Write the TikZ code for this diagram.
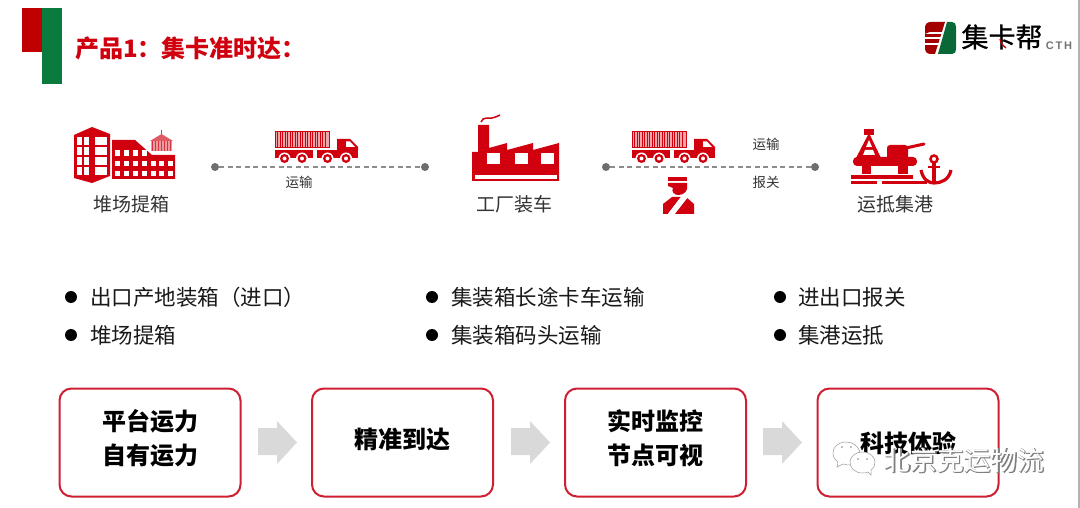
\documentclass[tikz,border=0pt]{standalone}
\usepackage{fontspec}
\setmainfont{Noto Sans CJK SC}
\newfontfamily\latinfont{Liberation Sans}
\newfontfamily\halofont[FakeBold=3]{Noto Sans CJK SC}
\newfontfamily\logofont[FakeBold=1]{Noto Sans CJK SC}
\definecolor{cred}{HTML}{D0000F}
\definecolor{dred}{HTML}{C00000}
\definecolor{cgreen}{HTML}{0B7A3E}
\definecolor{boxred}{HTML}{CE1F33}
\definecolor{lab}{HTML}{333333}
\definecolor{dotg}{HTML}{6E6E6E}
\definecolor{arrg}{HTML}{D9D9D9}
\tikzset{
 x=1pt,y=-1pt,
 heading/.style={inner sep=0,anchor=west,text=cred,font=\fontsize{24}{28}\selectfont\bfseries},
 iconlabel/.style={inner sep=0,text=lab,font=\fontsize{19}{22}\selectfont},
 smalllabel/.style={inner sep=0,text=lab,font=\fontsize{13.5}{16}\selectfont},
 bullettext/.style={inner sep=0,anchor=west,text=black!90,font=\fontsize{21.5}{26}\selectfont},
 bulletdot/.style={circle,fill=black,inner sep=0,minimum size=12pt},
 enddot/.style={circle,fill=dotg,inner sep=0,minimum size=8pt},
 link/.style={draw=black!45,line width=1.4pt,dash pattern=on 5pt off 3.5pt},
 card/.style={draw=boxred,line width=2pt,rounded corners=12pt,fill=white,minimum width=181pt,minimum height=108pt,inner sep=0},
 cardtext/.style={inner sep=0,align=center,text=black,font=\fontsize{24}{34}\selectfont\bfseries},
 flow/.style={fill=arrg,draw=none},
}
\newcommand{\truckicon}[2]{%
\begin{scope}[shift={(#1,#2)}]
 \fill[cred!35] (0,0) rectangle (54,16);
 \draw[cred,line width=1pt] (0,0) rectangle (54,16);
 \foreach \k in {2.5,5,...,52}{\draw[cred,line width=1pt] (\k,0) -- (\k,16);}
 \fill[cred] (0,18) rectangle (38,26.5);
 \fill[cred] (42,18) rectangle (83,26.5);
 \fill[cred] (62,18) -- (62,7) -- (75,7) -- (83,15) -- (83,18) -- cycle;
 \fill[white] (71,9.5) -- (75,9.5) -- (80,15) -- (71,15) -- cycle;
 \foreach \w in {9.5,27,52.5,71}{\fill[white] (\w,26.5) circle (6); \fill[cred] (\w,26.5) circle (4.5); \fill[white] (\w,26.5) circle (2);}
\end{scope}}
\begin{document}
\begin{tikzpicture}
\useasboundingbox (0,0) rectangle (1080,508);
\fill[white] (0,0) rectangle (1080,508);
\fill[black!30] (1077.5,0) rectangle (1080,508);
% corner marks
\fill[dred] (22,8) rectangle (42,52);
\fill[cgreen] (42,8) rectangle (62,84);
\node[heading] (title) at (75,48) {产品1：集卡准时达：};
% logo
\fill[dred!85!black] (925,28) .. controls (925,24) and (927,22) .. (931,22) -- (945,22) -- (935,54) -- (931,54) .. controls (927,54) and (925,52) .. (925,48) -- cycle;
\fill[white] (930,32) rectangle (945,34.5);
\fill[white] (925,37.5) rectangle (945,39);
\fill[white] (925,43) rectangle (945,45);
\fill[white] (925,34) -- (930,32) -- (930,34) -- cycle;
\fill[cgreen!85!black] (947,22) -- (952,22) .. controls (955,22) and (956,24) .. (956,27) -- (956,49) .. controls (956,52) and (955,54) .. (952,54) -- (938,54) -- cycle;
\node[inner sep=0,text=black,font=\logofont\fontsize{27}{30}\selectfont] (logotext) at (1002,37) {集卡帮};
\draw[dred,line width=1.3pt] (1000,39) .. controls (1001,44) and (1003,46) .. (1006,48);
\node[inner sep=0,text=black!55,font=\latinfont\fontsize{11}{12}\selectfont\bfseries] (logocth) at (1059,46) {C\,T\,H};
% warehouse icon
\fill[cred] (74,135) -- (92,127) -- (110,134) -- (110,176) -- (92,183) -- (74,178) -- cycle;
\foreach \yy in {137,147,157,167}{
 \fill[white] (77,\yy) rectangle (81.5,\yy+8);
 \fill[white] (84,\yy) rectangle (89,\yy+8);
 \fill[white] (95,\yy) rectangle (107,\yy+8);}
\fill[cred] (112,140) -- (135,140) -- (152,155) -- (175,155) -- (175,179) -- (112,179) -- cycle;
\foreach \xx in {115,124,133,142}{\fill[white] (\xx,150) rectangle (\xx+5,156);}
\foreach \xx in {115,124,133,142,151,159,168}{
 \fill[white] (\xx,161) rectangle (\xx+5,166);
 \fill[white] (\xx,171) rectangle (\xx+5,176.5);}
\fill[cred!65] (161.5,134) -- (150,141) -- (173,141) -- cycle;
\fill[cred!40] (151,141) rectangle (172,151);
\foreach \xx in {152,155,...,171}{\draw[cred!80,line width=.7pt] (\xx,141) -- (\xx,151);}
\draw[cred!80,line width=1pt] (161.5,130) -- (161.5,134);
\node[iconlabel] (l1) at (131,204) {堆场提箱};
% link 1
\node[enddot] (d1) at (215,167) {};
\node[enddot] (d2) at (425,167) {};
\draw[link] (d1) -- (d2);
\truckicon{275}{132}
\node[smalllabel] (t1) at (299,182) {运输};
% factory
\fill[cred] (472,152) -- (478,152) -- (478,125) -- (489,125) -- (489,148) -- (507,143) -- (507,150) -- (533,143) -- (533,150) -- (559,143) -- (559,181) -- (472,181) -- cycle;
\foreach \xx in {487,514.5,540.5}{\fill[white] (\xx,153) rectangle (\xx+13,164);}
\fill[white] (475,175) rectangle (557,179);
\draw[cred,line width=1.5pt] (481,122) .. controls (483,116) and (489,119) .. (492,118) .. controls (495,118) and (497,116) .. (500,115);
\node[iconlabel] (l2) at (514,204) {工厂装车};
% link 2
\node[enddot] (d3) at (606,167) {};
\node[enddot] (d4) at (815,167) {};
\draw[link] (d3) -- (d4);
\truckicon{632}{132}
\node[smalllabel] (t2) at (766,144) {运输};
\node[smalllabel] (t3) at (766,182) {报关};
% officer
\fill[cred] (668,177) rectangle (687,181);
\fill[cred] (668,183) -- (687,183) -- (687,189) .. controls (686,193) and (682,195) .. (678,195) .. controls (674,195) and (671,191) .. (673,188) -- (668,186) -- cycle;
\fill[cred] (672,197) -- (686,197) -- (694,204) -- (694,214) -- (663,214) -- (663,204) -- cycle;
\fill[white] (683,194) -- (688,197) -- (674,215) -- (667,215) -- cycle;
% port
\fill[cred] (864,129) rectangle (874,135);
\fill[cred] (869,133) -- (881,158) -- (856,158) -- cycle;
\fill[white] (869,140) -- (866,147) -- (872,147) -- cycle;
\fill[white] (865,150) -- (863,155) -- (875,155) -- (873,150) -- cycle;
\fill[cred,rounded corners=3pt] (887,145) rectangle (908,161);
\fill[cred,rounded corners=4pt] (853,157) rectangle (917,166);
\draw[cred,line width=3pt,line cap=round] (906,148) -- (924,144);
\fill[cred] (862,165) rectangle (871,174);
\fill[cred] (898,165) rectangle (908,174);
\fill[cred] (851,175.5) rectangle (913,179);
\fill[cred] (851,181) rectangle (877,184.5);
\fill[cred] (882,181) rectangle (927,184.5);
\draw[cred,line width=2.5pt] (934,159) circle (3.5);
\draw[cred,line width=3.5pt] (934,163) -- (934,182);
\draw[cred,line width=2.5pt] (928,167) -- (940,167);
\draw[cred,line width=3.2pt] (921,170) .. controls (923,180) and (929,183) .. (934,183) .. controls (941,183) and (949,180) .. (951,170);
\node[iconlabel] (l3) at (895,204) {运抵集港};
% bullets
\node[bulletdot] (b1) at (71,297) {};
\node[bullettext] (bt1) at (90,297) {出口产地装箱（进口）};
\node[bulletdot] (b2) at (71,335) {};
\node[bullettext] (bt2) at (90,335) {堆场提箱};
\node[bulletdot] (b3) at (432,297) {};
\node[bullettext] (bt3) at (451,297) {集装箱长途卡车运输};
\node[bulletdot] (b4) at (432,335) {};
\node[bullettext] (bt4) at (451,335) {集装箱码头运输};
\node[bulletdot] (b5) at (780,297) {};
\node[bullettext] (bt5) at (798,297) {进出口报关};
\node[bulletdot] (b6) at (780,335) {};
\node[bullettext] (bt6) at (798,335) {集港运抵};
% cards
\node[card] (c1) at (150,442.5) {};
\node[card] (c2) at (402.5,442.5) {};
\node[card] (c3) at (655.5,442.5) {};
\node[card] (c4) at (908,442.5) {};
\node[cardtext] (ct1) at (150,438) {平台运力\\自有运力};
\node[cardtext] (ct2) at (402,439) {精准到达};
\node[cardtext] (ct3) at (655,438) {实时监控\\节点可视};
\node[cardtext] (ct4) at (908,443) {科技体验};
% flow arrows
\foreach \ax in {258,511,763}{
 \fill[flow] (\ax,428) -- (\ax+19,428) -- (\ax+19,421) -- (\ax+39,442.5) -- (\ax+19,464) -- (\ax+19,455) -- (\ax,455) -- cycle;}
% watermark
\draw[black!40,fill=white,line width=.5pt] (846.5,442) .. controls (838,442) and (833,447) .. (833,453) .. controls (833,457) and (835,460) .. (838,462) -- (837,467) -- (843,464) .. controls (846,465) and (848,465) .. (851,465) .. controls (853,456) and (858,453) .. (860,452) .. controls (858,446) and (853,442) .. (846.5,442) -- cycle;
\draw[black!40,fill=white,line width=.5pt] (862.5,452) .. controls (855,452) and (850,457) .. (850,462) .. controls (850,468) and (855,473) .. (862.5,473) .. controls (865,473) and (867,473) .. (868,472) -- (871,475) -- (871,470) .. controls (874,468) and (875,465) .. (875,462) .. controls (875,457) and (870,452) .. (862.5,452) -- cycle;
\foreach \ex/\ey in {842/447,851/447,858/459,867/459}{\fill[black!50] (\ex,\ey) circle (.9);}
\node[inner sep=0,text=black!50,font=\halofont\fontsize{26.7}{30}\selectfont] (markhalo) at (964.5,460.5) {北京克运物流};
\node[inner sep=0,text=white,font=\fontsize{26.7}{30}\selectfont] (mark) at (964,460) {北京克运物流};
\end{tikzpicture}
\end{document}
